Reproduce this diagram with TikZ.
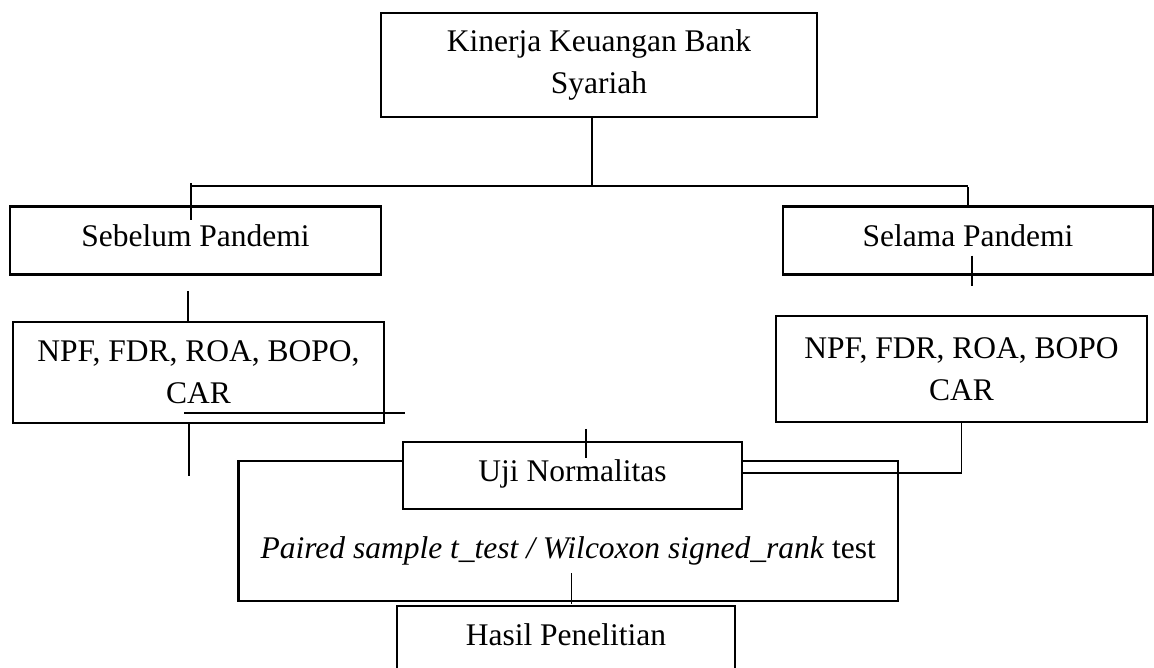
\documentclass[tikz,border=0pt]{standalone}
\usepackage{fontspec}
\setmainfont{Liberation Serif}
\usetikzlibrary{positioning}

\begin{document}
\begin{tikzpicture}[x=1pt, y=-1pt, on grid,
    box/.style={draw, line width=2.1pt, fill=white, inner sep=0pt, align=center,
        font=\fontsize{31.5}{42}\selectfont},
    oneline/.style={text height=21pt, text depth=9pt},
    link/.style={line width=1.5pt}]
    \clip (0,0) rectangle (1154,667);

    \node[box, minimum width=436pt, minimum height=104pt] (kinerja) at (599,65) {Kinerja Keuangan Bank\\Syariah};
    \node[box, oneline, minimum width=371pt, minimum height=68pt] (sebelum) at (195.5,240.5) {Sebelum Pandemi};
    \node[box, oneline, minimum width=370pt, minimum height=68pt] (selama) [right=772.5pt of sebelum] {Selama Pandemi};
    \node[box, minimum width=371pt, minimum height=101pt] (var_1) [below=132pt of sebelum, xshift=3pt] {NPF, FDR, ROA, BOPO,\\CAR};
    \node[box, minimum width=371pt, minimum height=106pt] (var_2) [below=128.5pt of selama, xshift=-6.5pt] {NPF, FDR, ROA, BOPO\\CAR};
    \node[box, minimum width=659.5pt, minimum height=140pt, text height=62pt, text depth=8pt] (tes) at (568.25,531) {\textit{Paired sample t\_test / Wilcoxon signed\_rank} test};
    \node[box, oneline, minimum width=339pt, minimum height=67pt] (uji) at (572.5,475.5) {Uji Normalitas};
    \node[box, minimum width=338pt, minimum height=94pt, text height=21pt, text depth=37pt] (hasil) at (566,653) {Hasil Penelitian};

    \coordinate (split) at (592,186);
    \coordinate (branch_l) at (191,186);
    \coordinate (branch_r) at (968,186);

    \draw[link]
    (kinerja.south -| split) -- (split)
    (branch_l) -- (branch_r)
    ([yshift=3pt]branch_l) -- ([yshift=-15pt]sebelum.north -| branch_l)
    ([yshift=18pt]selama.north -| branch_r) -- (selama.north -| branch_r)
    ([xshift=4pt,yshift=20pt]selama.south) -- ++(0,30)
    ([xshift=-10.5pt,yshift=30pt]var_1.north) -- ([xshift=-10.5pt]var_1.north)
    ([xshift=-14.5pt,yshift=11pt]var_1.south) -- ++(221,0)
    ([xshift=-9.5pt]var_1.south) -- ++(0,52)
    (var_2.south) |- ([yshift=2.5pt]uji.east)
    ([xshift=13.5pt,yshift=12pt]uji.north) -- ++(0,29)
    ([xshift=3pt,yshift=29pt]tes.south) -- ([xshift=3pt,yshift=-2pt]tes.south);

\end{tikzpicture}
\end{document}
